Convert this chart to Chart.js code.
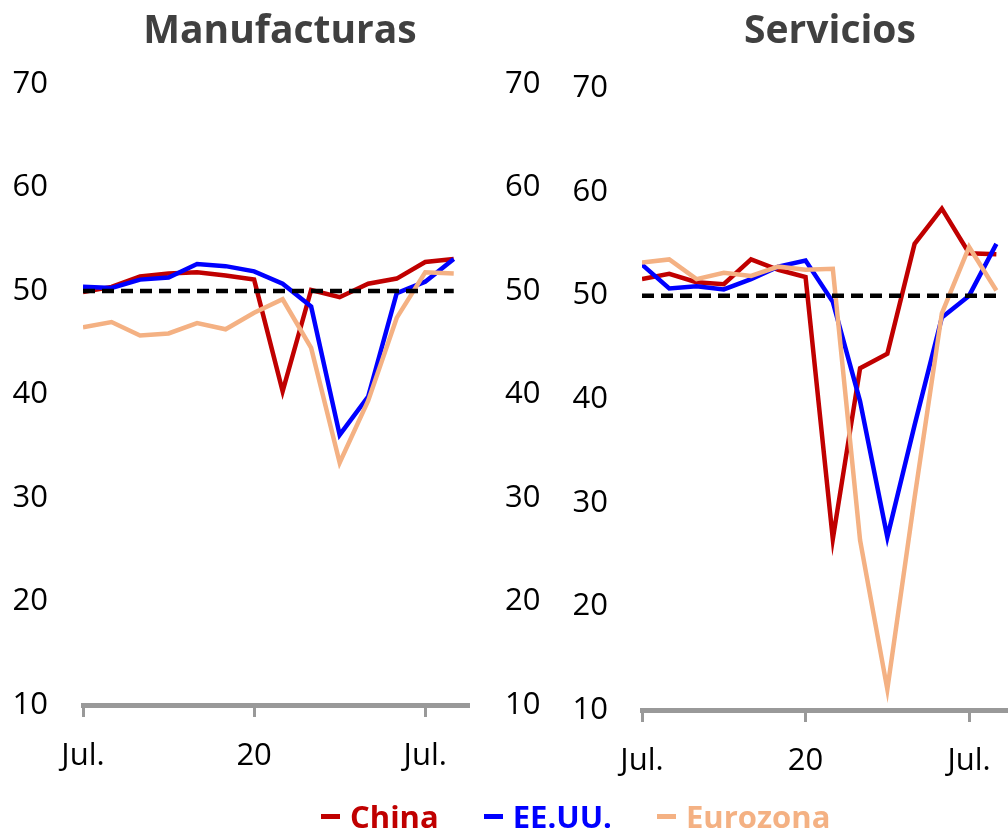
<!DOCTYPE html>
<html><head><meta charset="utf-8">
<script src="https://cdn.jsdelivr.net/npm/chart.js@4"></script>
<style>
html,body{margin:0;padding:0;width:1008px;height:832px;overflow:hidden;background:#fff;}
canvas{position:absolute;top:0;}
#c1{left:0;}
#c2{left:560px;}
#legend{position:absolute;left:321px;top:795px;height:42px;display:flex;align-items:center;font-family:"Open Sans";font-weight:bold;font-size:31px;white-space:nowrap;}
.item{display:flex;align-items:center;}
.dash{display:inline-block;width:19px;height:5px;margin-right:10px;}
</style></head><body>
<canvas id="c1" width="560" height="795"></canvas>
<canvas id="c2" width="540" height="800"></canvas>
<div id="legend"></div>
<script>
const months = ['Jul 2019','Ago 2019','Sep 2019','Oct 2019','Nov 2019','Dic 2019','Ene 2020','Feb 2020','Mar 2020','Abr 2020','May 2020','Jun 2020','Jul 2020','Ago 2020'];
const xTickIndex = [0, 6, 12];
const xTickLabels = ['Jul.', '20', 'Jul.'];
const yTickValues = [10, 20, 30, 40, 50, 60, 70];

const seriesNames = ['China', 'EE.UU.', 'Eurozona'];
const seriesColors = ['#C00000', '#0000FF', '#F4B183'];

const manufChina = [49.9, 50.4, 51.4, 51.7, 51.8, 51.5, 51.1, 40.3, 50.1, 49.4, 50.7, 51.2, 52.8, 53.1];
const manufUS    = [50.4, 50.3, 51.1, 51.3, 52.6, 52.4, 51.9, 50.7, 48.5, 36.1, 39.8, 49.8, 50.9, 53.1];
const manufEZ    = [46.5, 47.0, 45.7, 45.9, 46.9, 46.3, 47.9, 49.2, 44.5, 33.4, 39.4, 47.4, 51.8, 51.7];

const servChina = [51.6, 52.1, 51.3, 51.1, 53.5, 52.5, 51.8, 26.5, 43.0, 44.4, 55.0, 58.4, 54.1, 54.0];
const servUS    = [53.0, 50.7, 50.9, 50.6, 51.6, 52.8, 53.4, 49.4, 39.8, 26.7, 37.5, 47.9, 50.0, 55.0];
const servEZ    = [53.2, 53.5, 51.6, 52.2, 51.9, 52.8, 52.5, 52.6, 26.4, 12.0, 30.5, 48.3, 54.7, 50.5];

const threshold = [50, 50, 50, 50, 50, 50, 50, 50, 50, 50, 50, 50, 50, 50];

const FONT = '"Open Sans", "DejaVu Sans", sans-serif';

function pts(arr) { return arr.map((v, i) => ({ x: i, y: v })); }

function yAxis(pos, width, pad) {
  return {
    position: pos, min: 10, max: 70,
    afterBuildTicks: s => { s.ticks = yTickValues.map(v => ({ value: v })); },
    ticks: { color: '#000', font: { family: FONT, size: 31 }, padding: pad },
    grid: { display: false, drawTicks: false },
    border: { display: false },
    afterFit: s => { s.width = width; }
  };
}

function makePanel(id, title, data, opt) {
  const datasets = [
    { label: 'umbral', data: pts(threshold), borderColor: '#000', borderWidth: 4.5, borderDash: [12, 7], pointRadius: 0, order: 0 }
  ];
  data.forEach((arr, k) => {
    datasets.push({ label: seriesNames[k], data: pts(arr), borderColor: seriesColors[k], borderWidth: 4.5, pointRadius: 0, tension: 0, order: 3 - k });
  });
  new Chart(document.getElementById(id), {
    type: 'line',
    data: { labels: months, datasets },
    options: {
      responsive: false, animation: false, events: [],
      layout: { padding: 0 },
      plugins: {
        legend: { display: false }, tooltip: { enabled: false },
        title: { display: true, text: title, color: '#404040', font: { family: FONT, size: 39, weight: 'bold' }, padding: { top: 8, bottom: opt.titleBottom } }
      },
      scales: {
        x: {
          type: 'linear', min: 0, max: 13.5,
          afterBuildTicks: s => { s.ticks = xTickIndex.map(v => ({ value: v })); },
          ticks: { color: '#000', font: { family: FONT, size: 31 }, padding: 21, maxRotation: 0, autoSkip: false,
                   callback: v => xTickLabels[xTickIndex.indexOf(v)] },
          grid: { drawOnChartArea: false, drawTicks: true, tickLength: 12, color: '#999', lineWidth: 3 },
          border: { display: true, color: '#999', width: 5 },
          afterFit: s => { s.height = 90; }
        },
        y: yAxis('left', opt.leftW, opt.leftPad),
        y2: yAxis('right', opt.rightW, 37)
      }
    }
  });
}

makePanel('c1', 'Manufacturas', [manufChina, manufUS, manufEZ], { titleBottom: 29.2, leftW: 83, leftPad: 35, rightW: 92 });
makePanel('c2', 'Servicios', [servChina, servUS, servEZ], { titleBottom: 33.7, leftW: 82, leftPad: 34, rightW: 90 });

const leg = document.getElementById('legend');
seriesNames.forEach((n, k) => {
  const it = document.createElement('div');
  it.className = 'item';
  if (k > 0) it.style.marginLeft = '45px';
  const d = document.createElement('span');
  d.className = 'dash';
  d.style.background = seriesColors[k];
  const t = document.createElement('span');
  t.textContent = n;
  t.style.color = seriesColors[k];
  it.appendChild(d); it.appendChild(t);
  leg.appendChild(it);
});
</script>
</body></html>
